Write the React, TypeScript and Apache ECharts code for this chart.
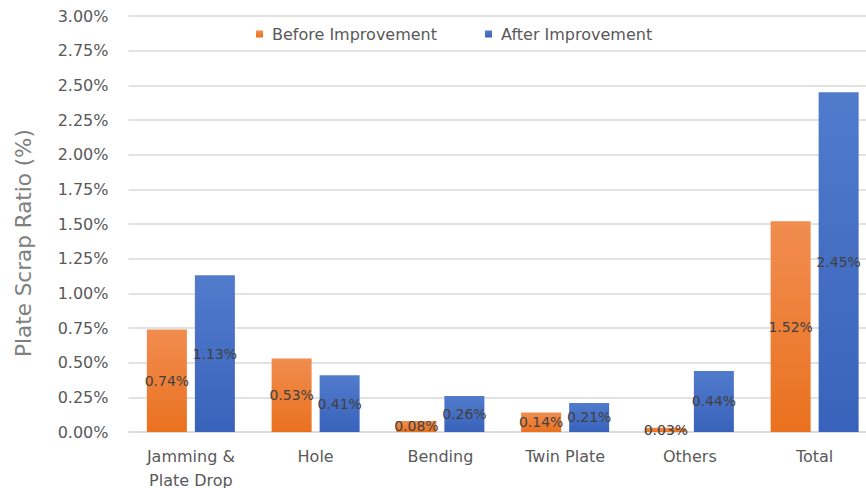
import React, { useEffect, useRef } from "react";
import * as echarts from "echarts";

const categories = ["Jamming &\nPlate Drop", "Hole", "Bending", "Twin Plate", "Others", "Total"];
const beforeValues = [0.74, 0.53, 0.08, 0.14, 0.03, 1.52];
const afterValues = [1.13, 0.41, 0.26, 0.21, 0.44, 2.45];
const seriesNames = ["Before Improvement", "After Improvement"];
const yTitle = "Plate Scrap Ratio (%)";

const FONT = "DejaVu Sans";

function grad(top: string, bottom: string) {
  return new echarts.graphic.LinearGradient(0, 0, 0, 1, [
    { offset: 0, color: top },
    { offset: 1, color: bottom },
  ]);
}

export default function App() {
  const ref = useRef<HTMLDivElement>(null);
  useEffect(() => {
    if (!ref.current) return;
    const chart = echarts.init(ref.current, undefined, { renderer: "svg" });
    const label = {
      show: true,
      position: "inside" as const,
      formatter: (p: any) => p.value.toFixed(2) + "%",
      color: "#404040",
      fontFamily: FONT,
      fontSize: 14,
    };
    chart.setOption({
      animation: false,
      backgroundColor: "#ffffff",
      grid: {
        left: 128.5,
        right: -11,
        top: 16,
        bottom: 56,
        containLabel: false,
        outerBoundsMode: "none",
      },
      legend: {
        data: seriesNames,
        top: 21,
        left: 251,
        itemWidth: 7,
        itemHeight: 7,
        itemGap: 48,
        icon: "rect",
        textStyle: { color: "#595959", fontFamily: FONT, fontSize: 16, padding: [0, 0, 0, 4] },
      },
      xAxis: {
        type: "category",
        data: categories,
        axisLine: { show: true, lineStyle: { color: "#D9D9D9", width: 1.5 } },
        axisTick: { show: false },
        axisLabel: {
          color: "#595959",
          fontFamily: FONT,
          fontSize: 16,
          margin: 12,
          lineHeight: 24,
          interval: 0,
        },
      },
      yAxis: {
        type: "value",
        min: 0,
        max: 3,
        interval: 0.25,
        axisLabel: {
          formatter: (v: number) => v.toFixed(2) + "%",
          color: "#595959",
          fontFamily: FONT,
          fontSize: 16,
          margin: 20,
        },
        axisLine: { show: false },
        axisTick: { show: false },
        splitLine: { lineStyle: { color: "#D9D9D9", width: 1.5 } },
      },
      series: [
        {
          name: seriesNames[0],
          type: "bar",
          data: beforeValues,
          barWidth: 40,
          barGap: "20%",
          itemStyle: { color: grad("#F18D50", "#EA711F") },
          label,
        },
        {
          name: seriesNames[1],
          type: "bar",
          data: afterValues,
          barWidth: 40,
          barGap: "20%",
          itemStyle: { color: grad("#517BCB", "#3962BC") },
          label,
        },
      ],
      graphic: [
        {
          type: "text",
          x: 23,
          y: 243,
          rotation: Math.PI / 2,
          style: {
            text: yTitle,
            align: "center",
            verticalAlign: "middle",
            fill: "#7F7F7F",
            fontFamily: FONT,
            fontSize: 21.5,
          },
        },
      ],
    });
    return () => chart.dispose();
  }, []);
  return (
    <div
      ref={ref}
      style={{ position: "fixed", left: 0, top: 0, width: 866, height: 488, overflow: "hidden" }}
    />
  );
}
